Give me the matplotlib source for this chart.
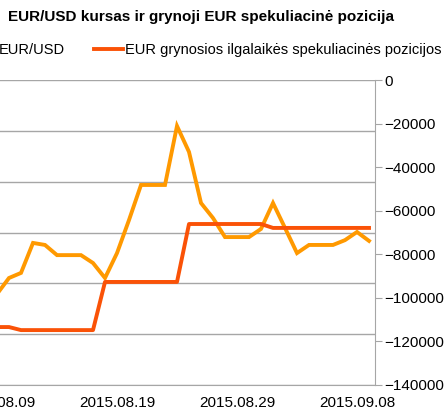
import numpy as np
import pandas as pd
import matplotlib
matplotlib.use('Agg')
import matplotlib.pyplot as plt
import matplotlib.dates as mdates

plt.rcParams['font.family'] = ['Liberation Sans', 'DejaVu Sans']

# daily data, 2015-08-09 .. 2015-09-09
dates = pd.date_range('2015-08-09', '2015-09-09', freq='D')
eurusd = [1.0958, 1.1021, 1.1041, 1.1159, 1.1151, 1.1111, 1.1111, 1.1111,
          1.1080, 1.1021, 1.1119, 1.1249, 1.1387, 1.1387, 1.1387, 1.1619,
          1.1517, 1.1316, 1.1257, 1.1182, 1.1182, 1.1182, 1.1214, 1.1316,
          1.1218, 1.1119, 1.1151, 1.1151, 1.1151, 1.1170, 1.1202, 1.1167]
positions = [-113400, -113400] + [-114800] * 7 + [-92700] * 7 + [-66100] * 7 \
    + [-67900] * 9

usd_label = 'EUR/USD'
pos_label = 'EUR grynosios ilgalaikės spekuliacinės pozicijos'
title = 'EUR/USD kursas ir grynoji EUR spekuliacinė pozicija'
xticks = ['2015-08-09', '2015-08-19', '2015-08-29', '2015-09-08']

W, H, DPI = 445, 412, 100
fig = plt.figure(figsize=(W / DPI, H / DPI), dpi=DPI, facecolor='white')

# axes box in pixels (left edge lies outside the picture, as in the reference)
x0, x1, ytop, ybot = -15, 375, 80, 385
ax = fig.add_axes([x0 / W, (H - ybot) / H, (x1 - x0) / W, (ybot - ytop) / H])
ax2 = ax.twinx()

c_usd = '#FF9900'
c_pos = '#FA5207'
grid_c = '#A6A6A6'

ax.set_ylim(1.06, 1.18)
ax.set_yticks(np.arange(1.06, 1.1801, 0.02))
ax.yaxis.grid(True, color=grid_c, lw=1.0)
ax.set_axisbelow(True)
ax.tick_params(axis='y', left=False, labelleft=False)
l1, = ax.plot(dates, eurusd, color=c_usd, lw=2.8, solid_joinstyle='miter',
              label=usd_label, zorder=3)

ax2.set_ylim(-140000, 0)
ax2.set_yticks(np.arange(-140000, 1, 20000))
l2, = ax2.plot(dates, positions, color=c_pos, lw=2.8, label=pos_label, zorder=3)
ax2.tick_params(axis='y', length=5, color=grid_c, labelsize=11, pad=2,
                labelcolor='black')

ax.set_xlim(pd.Timestamp('2015-08-08'), pd.Timestamp('2015-09-09 12:00'))
ax.set_xticks(pd.to_datetime(xticks))
ax.xaxis.set_major_formatter(mdates.DateFormatter('%Y.%m.%d'))
ax.tick_params(axis='x', length=0, labelsize=11, pad=8)

for a in (ax, ax2):
    for s in ('top', 'left', 'right'):
        a.spines[s].set_visible(False)
    a.spines['bottom'].set_color(grid_c)
ax2.spines['right'].set_visible(True)
ax2.spines['right'].set_color(grid_c)
ax2.spines['bottom'].set_visible(False)

fig.text(8 / W, 1 - 17 / H, title, fontsize=11, fontweight='bold',
         va='center', ha='left')

leg = fig.legend([l1, l2], [usd_label, pos_label], loc='center left',
                 bbox_to_anchor=(-46 / W, 1 - 50 / H), ncol=2, frameon=False,
                 fontsize=10.5, handlelength=2.0, handletextpad=0.15,
                 columnspacing=2.0)

fig.savefig('out.png', dpi=DPI, facecolor='white')
